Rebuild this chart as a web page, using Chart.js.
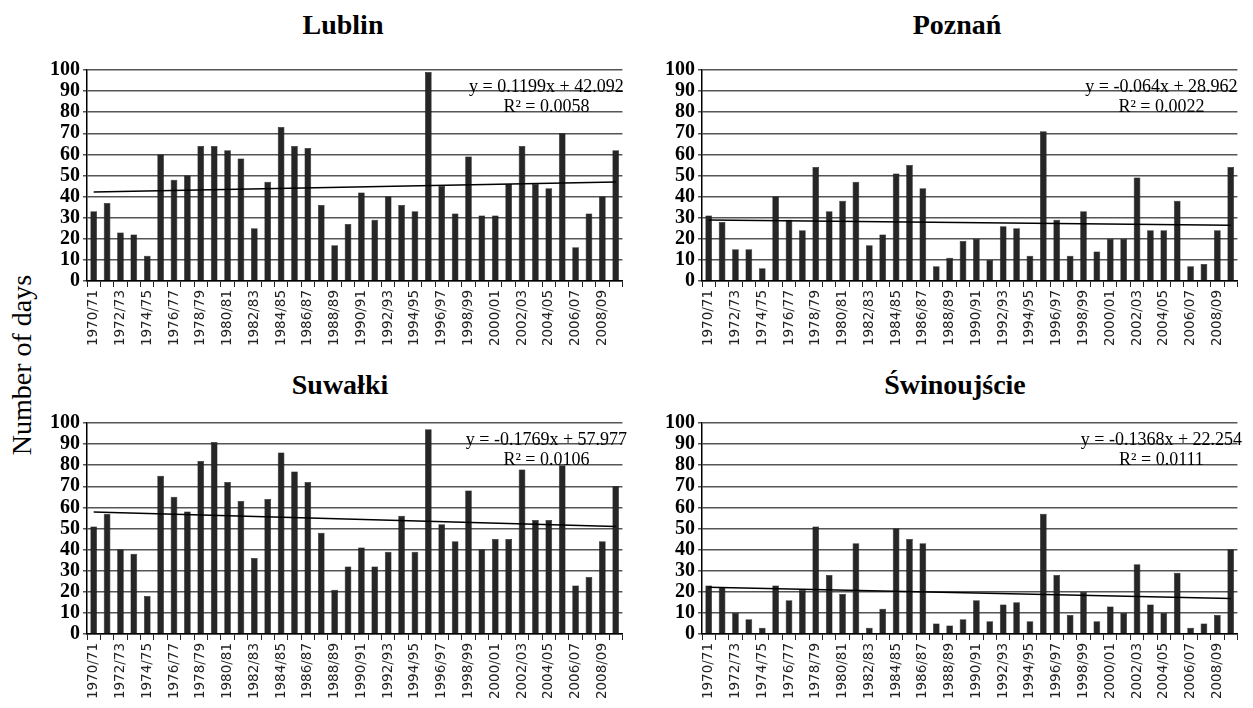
<!DOCTYPE html>
<html>
<head>
<meta charset="utf-8">
<script src="https://cdn.jsdelivr.net/npm/chart.js@4.4.0/dist/chart.umd.min.js"></script>
<style>
    body { margin: 0; background: #fff; width: 1253px; height: 708px; position: relative; overflow: hidden; }
    canvas { position: absolute; }
    .title { position: absolute; font-family: "Liberation Serif", serif; font-weight: bold; font-size: 28px; color: #000; transform: translateX(-50%); white-space: nowrap; }
    #yTitle { position: absolute; left: 22px; top: 365px; font-family: "Liberation Serif", serif; font-size: 28px; color: #000; transform: translate(-50%, -50%) rotate(-90deg); white-space: nowrap; }
</style>
</head>
<body>
<div class="title" style="left:343px; top:9px;">Lublin</div>
<div class="title" style="left:957px; top:9px;">Poznań</div>
<div class="title" style="left:340px; top:369px;">Suwałki</div>
<div class="title" style="left:955px; top:369px;">Świnoujście</div>
<div id="yTitle">Number of days</div>

<canvas id="chartLublin" width="595" height="300" style="left:40px; top:55px;"></canvas>
<canvas id="chartPoznan" width="595" height="300" style="left:655px; top:55px;"></canvas>
<canvas id="chartSuwalki" width="595" height="300" style="left:40px; top:408px;"></canvas>
<canvas id="chartSwinoujscie" width="595" height="300" style="left:655px; top:408px;"></canvas>

<script>
// sezony 1970/71 - 2009/10
const seasons = [
    '1970/71', '1971/72', '1972/73', '1973/74', '1974/75', '1975/76', '1976/77', '1977/78', '1978/79', '1979/80',
    '1980/81', '1981/82', '1982/83', '1983/84', '1984/85', '1985/86', '1986/87', '1987/88', '1988/89', '1989/90',
    '1990/91', '1991/92', '1992/93', '1993/94', '1994/95', '1995/96', '1996/97', '1997/98', '1998/99', '1999/00',
    '2000/01', '2001/02', '2002/03', '2003/04', '2004/05', '2005/06', '2006/07', '2007/08', '2008/09', '2009/10'
];

const lublinDays = [33, 37, 23, 22, 12, 60, 48, 50, 64, 64, 62, 58, 25, 47, 73, 64, 63, 36, 17, 27,
    42, 29, 40, 36, 33, 99, 45, 32, 59, 31, 31, 46, 64, 46, 44, 70, 16, 32, 40, 62];
const poznanDays = [31, 28, 15, 15, 6, 40, 29, 24, 54, 33, 38, 47, 17, 22, 51, 55, 44, 7, 11, 19,
    20, 10, 26, 25, 12, 71, 29, 12, 33, 14, 20, 20, 49, 24, 24, 38, 7, 8, 24, 54];
const suwalkiDays = [51, 57, 40, 38, 18, 75, 65, 58, 82, 91, 72, 63, 36, 64, 86, 77, 72, 48, 21, 32,
    41, 32, 39, 56, 39, 97, 52, 44, 68, 40, 45, 45, 78, 54, 54, 80, 23, 27, 44, 70];
const swinoujscieDays = [23, 22, 10, 7, 3, 23, 16, 21, 51, 28, 19, 43, 3, 12, 50, 45, 43, 5, 4, 7,
    16, 6, 14, 15, 6, 57, 28, 9, 20, 6, 13, 10, 33, 14, 10, 29, 3, 5, 9, 40];

// linia trendu: wartosc na poczatku i na koncu
const lublinTrend = [42.2, 46.9];
const poznanTrend = [28.9, 26.4];
const suwalkiTrend = [57.8, 50.9];
const swinoujscieTrend = [22.1, 16.8];

const lublinEq = ['y = 0.1199x + 42.092', 'R² = 0.0058'];
const poznanEq = ['y = -0.064x + 28.962', 'R² = 0.0022'];
const suwalkiEq = ['y = -0.1769x + 57.977', 'R² = 0.0106'];
const swinoujscieEq = ['y = -0.1368x + 22.254', 'R² = 0.0111'];

function trendData(ends) {
    const arr = seasons.map(() => null);
    arr[0] = ends[0];
    arr[arr.length - 1] = ends[1];
    return arr;
}

// napis z rownaniem w prawym gornym rogu
const equationPlugin = {
    id: 'equation',
    afterDatasetsDraw(chart, args, opts) {
        const { ctx, chartArea } = chart;
        const cx = chartArea.right - 76;
        ctx.save();
        ctx.font = '18px "Liberation Serif", serif';
        ctx.fillStyle = '#000';
        ctx.textAlign = 'center';
        ctx.textBaseline = 'middle';
        ctx.fillText(opts.lines[0], cx, chartArea.top + 17);
        ctx.fillText(opts.lines[1], cx, chartArea.top + 37);
        ctx.restore();
    }
};

function makeChart(id, days, trend, eq) {
    const ctx = document.getElementById(id).getContext('2d');
    new Chart(ctx, {
        type: 'bar',
        data: {
            labels: seasons,
            datasets: [
                {
                    type: 'line',
                    data: trendData(trend),
                    borderColor: '#000',
                    borderWidth: 1.5,
                    pointRadius: 0,
                    spanGaps: true,
                    fill: false,
                    order: 0
                },
                {
                    data: days,
                    backgroundColor: '#262626',
                    borderColor: '#000',
                    borderWidth: 0.5,
                    barPercentage: 0.5,
                    categoryPercentage: 1.0,
                    order: 1
                }
            ]
        },
        options: {
            responsive: false,
            animation: false,
            layout: { padding: { top: 8, right: 5, left: 0, bottom: 0 } },
            plugins: {
                legend: { display: false },
                tooltip: { enabled: false },
                equation: { lines: eq }
            },
            scales: {
                x: {
                    offset: true,
                    grid: {
                        display: true,
                        drawOnChartArea: false,
                        offset: true,
                        tickLength: 6,
                        color: '#222'
                    },
                    border: { color: '#000', width: 1.5 },
                    ticks: {
                        autoSkip: false,
                        minRotation: 90,
                        maxRotation: 90,
                        padding: 3,
                        color: '#222',
                        font: { family: '"DejaVu Sans", sans-serif', size: 13.5 },
                        callback: function (value, index) {
                            return index % 2 === 0 ? seasons[index] : '';
                        }
                    },
                    afterFit: (scale) => { scale.height = 74; }
                },
                y: {
                    min: 0,
                    max: 100,
                    grid: {
                        color: '#555',
                        lineWidth: 1.5,
                        tickLength: 4
                    },
                    border: { color: '#000', width: 1.5 },
                    ticks: {
                        stepSize: 10,
                        autoSkip: false,
                        padding: 3,
                        color: '#000',
                        font: { family: '"Liberation Serif", serif', size: 20, weight: 'bold' }
                    },
                    afterFit: (scale) => { scale.width = 47; }
                }
            }
        },
        plugins: [equationPlugin]
    });
}

makeChart('chartLublin', lublinDays, lublinTrend, lublinEq);
makeChart('chartPoznan', poznanDays, poznanTrend, poznanEq);
makeChart('chartSuwalki', suwalkiDays, suwalkiTrend, suwalkiEq);
makeChart('chartSwinoujscie', swinoujscieDays, swinoujscieTrend, swinoujscieEq);
</script>
</body>
</html>
